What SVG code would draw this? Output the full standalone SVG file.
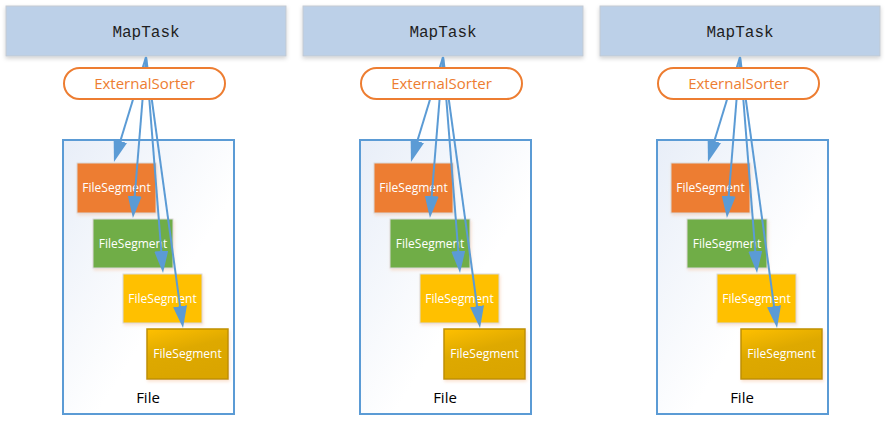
<svg xmlns="http://www.w3.org/2000/svg" width="893" height="424" viewBox="0 0 893 424">
<defs>
<style>
.task{fill:#BCD0E8;stroke:#C3CAD2;stroke-width:1}
.task-t{font-family:"Liberation Mono","DejaVu Sans Mono",monospace;font-size:16px;fill:#1E1E1E;text-anchor:middle}
.sorter{fill:#FFFFFF;stroke:#ED7D31;stroke-width:2}
.sorter-t{font-family:"Open Sans","Noto Sans",sans-serif;font-size:15px;fill:#ED7D31;text-anchor:middle}
.file{fill:url(#fileGrad);stroke:#5B9BD5;stroke-width:2}
.file-t{font-family:"Open Sans","Noto Sans",sans-serif;font-size:15px;fill:#000000;text-anchor:middle}
.seg-t{font-family:"Open Sans","Noto Sans",sans-serif;font-size:12px;fill:#FFFFFF;text-anchor:middle}
.s1{fill:#ED7D31;stroke:#D9D9D9;stroke-width:1}
.s2{fill:#70AD47;stroke:#D9D9D9;stroke-width:1}
.s3{fill:#FFC000;stroke:#D9D9D9;stroke-width:1}
.s4{fill:url(#goldGrad);stroke:#BF9000;stroke-width:1.5}
.conn{stroke:#5B9BD5;stroke-width:2;fill:none;marker-end:url(#arrow)}
</style>
<linearGradient id="fileGrad" x1="0" y1="0" x2="1" y2="1">
<stop offset="0" stop-color="#E8EEF8"/>
<stop offset="0.6" stop-color="#FFFFFF"/>
<stop offset="1" stop-color="#FFFFFF"/>
</linearGradient>
<linearGradient id="goldGrad" x1="0" y1="0" x2="0.4" y2="1">
<stop offset="0" stop-color="#FFC000"/>
<stop offset="0.5" stop-color="#DEA900"/>
<stop offset="1" stop-color="#DAA500"/>
</linearGradient>
<filter id="shadow" x="-10%" y="-10%" width="120%" height="140%">
<feDropShadow dx="0" dy="2" stdDeviation="2" flood-color="#000000" flood-opacity="0.18"/>
</filter>
<filter id="glow" x="-10%" y="-10%" width="130%" height="130%">
<feDropShadow dx="1" dy="2" stdDeviation="1.5" flood-color="#F4B183" flood-opacity="0.35"/>
</filter>
<marker id="arrow" markerUnits="userSpaceOnUse" markerWidth="22" markerHeight="14" refX="4" refY="7" orient="auto">
<path d="M0,0 L22,7 L0,14 z" fill="#5B9BD5"/>
</marker>
<g id="panel">
<g id="maptask"><rect class="task" x="6" y="6" width="280" height="50" filter="url(#shadow)"/><text class="task-t" x="146" y="37">MapTask</text></g>
<g id="file"><rect class="file" x="63" y="140" width="171" height="274"/><text class="file-t" x="148" y="403">File</text></g>
<g id="seg1"><rect class="s1" x="77" y="163" width="79" height="50" filter="url(#glow)"/><text class="seg-t" x="116.5" y="192">FileSegment</text></g>
<g id="seg2"><rect class="s2" x="93" y="219" width="80" height="49" filter="url(#glow)"/><text class="seg-t" x="133" y="247.5">FileSegment</text></g>
<g id="seg3"><rect class="s3" x="123" y="274" width="79" height="49" filter="url(#glow)"/><text class="seg-t" x="162.5" y="302.5">FileSegment</text></g>
<g id="seg4"><rect class="s4" x="147" y="329" width="81" height="50" filter="url(#glow)"/><text class="seg-t" x="187.5" y="358">FileSegment</text></g>
<g id="connectors">
<path class="conn" d="M146,57 L119.2,144.8"/>
<path class="conn" d="M146,57 L134.4,200"/>
<path class="conn" d="M146,57 L161.6,255"/>
<path class="conn" d="M146,57 L180.6,310.2"/>
</g>
<g id="sorter"><rect class="sorter" x="64" y="68" width="161" height="31" rx="15.5" ry="15.5"/><text class="sorter-t" x="144.5" y="88.5">ExternalSorter</text></g>
</g>
</defs>
<rect width="893" height="424" fill="#FFFFFF"/>
<g id="panel1"><use href="#panel" x="0" y="0"/></g>
<g id="panel2"><use href="#panel" x="297" y="0"/></g>
<g id="panel3"><use href="#panel" x="594" y="0"/></g>
</svg>
